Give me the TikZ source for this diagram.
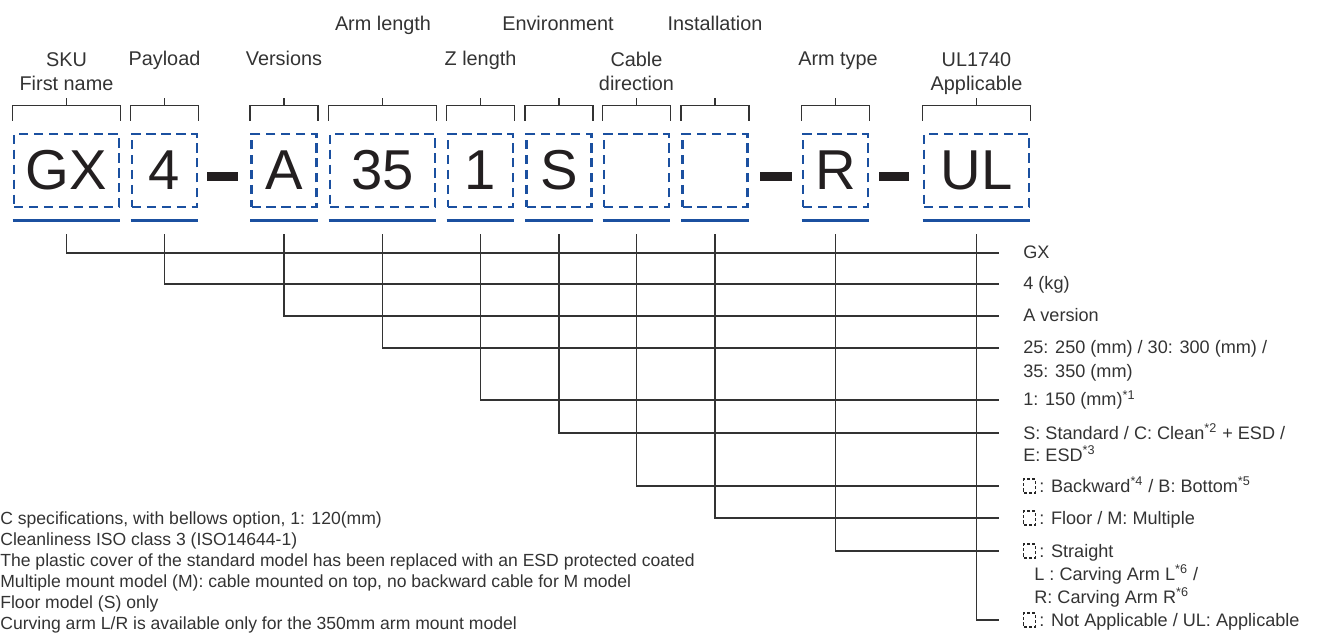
\documentclass[tikz,border=0pt]{standalone}
\usepackage{fontspec}
\setmainfont{Liberation Sans}
\usetikzlibrary{positioning}
\definecolor{codeblue}{HTML}{1B50A0}
\definecolor{inkgray}{HTML}{333333}
\definecolor{glyphblack}{HTML}{231F20}
\tikzset{
    fieldbox/.style={draw=codeblue, line width=1.6pt, dash pattern=on 5.3pt off 3.2pt,
        minimum height=1.46cm, inner sep=0pt, text=glyphblack, font=\fontsize{32}{36}\selectfont},
    narrowbox/.style={fieldbox, minimum width=1.3cm},
    widebox/.style={fieldbox, minimum width=2.1cm},
    toplab/.style={text=inkgray, font=\fontsize{11.3}{13.6}\selectfont, inner sep=0pt, align=center},
    desc/.style={text=inkgray, font=\fontsize{10.3}{12}\selectfont, inner sep=0pt, anchor=base west},
    note/.style={text=inkgray, font=\fontsize{10}{12}\selectfont, inner sep=0pt, anchor=base west},
    optmark/.style={draw=black!85, line width=0.6pt, dash pattern=on 1.8pt off 1.2pt,
        minimum width=0.24cm, minimum height=0.28cm, inner sep=0pt, anchor=west},
    bracket/.style={draw=inkgray, line width=0.7pt},
    underbar/.style={draw=codeblue, line width=1.5pt},
    link/.style={draw=inkgray, line width=0.75pt},
    sepbar/.style={fill=glyphblack}
}
\tikzset{
    frame/.pic={
		\draw[bracket] ([yshift=0.24cm]#1.north west) -- ++(0,-15) -| ([yshift=0.24cm]#1.north east);
		\draw[bracket] ([yshift=0.54cm]#1.north) -- ++(0,-8);
		\draw[underbar] ([yshift=-0.24cm]#1.south west) -- ([yshift=-0.24cm]#1.south east);
		\draw[link] ([yshift=-0.52cm]#1.south) |- (#1-end);
	}
}
\begin{document}
\begin{tikzpicture}[x=0.02cm,y=-0.02cm]
			\useasboundingbox (0,0) rectangle (1321,634);
			% code fields
			\node[widebox] (sku) at (66.5,170.5) {GX};
			\node[narrowbox] (pay) at (164.5,170.5) {4};
			\node[narrowbox] (ver) at (284,170.5) {A};
			\node[widebox] (arm) at (382.5,170.5) {35};
			\node[narrowbox] (zlen) at (480.5,170.5) {1};
			\node[narrowbox] (env) at (559,170.5) {S};
			\node[narrowbox] (cab) at (636.5,170.5) {};
			\node[narrowbox] (inst) at (715,170.5) {};
			\node[narrowbox] (armt) at (835.5,170.5) {R};
			\node[widebox] (ul) at (976.5,170.5) {UL};
			\fill[sepbar] (207,172.5) rectangle (238,181.5);
			\fill[sepbar] (760,172.5) rectangle (792,181.5);
			\fill[sepbar] (879,172.5) rectangle (909,181.5);
			% field names
			\node[toplab, anchor=north] (sku-lab) at (66.5,52) {SKU\\First name};
			\node[toplab, anchor=base] (pay-lab) at (164.5,66) {Payload};
			\node[toplab, anchor=base] (ver-lab) at (284,66) {Versions};
			\node[toplab, anchor=base] (arm-lab) at (383,31) {Arm length};
			\node[toplab, anchor=base] (zlen-lab) at (480.5,66) {Z length};
			\node[toplab, anchor=base] (env-lab) at (558,31) {Environment};
			\node[toplab, anchor=north] (cab-lab) at (636.5,52) {Cable\\direction};
			\node[toplab, anchor=base] (inst-lab) at (715,31) {Installation};
			\node[toplab, anchor=base] (armt-lab) at (838,66) {Arm type};
			\node[toplab, anchor=north] (ul-lab) at (976.5,52) {UL1740\\Applicable};
			% line ends
			\coordinate (sku-end) at (999,253);
			\coordinate (pay-end) at (999,284);
			\coordinate (ver-end) at (999,316);
			\coordinate (arm-end) at (999,348);
			\coordinate (zlen-end) at (999,400);
			\coordinate (env-end) at (999,433);
			\coordinate (cab-end) at (999,486);
			\coordinate (inst-end) at (999,518);
			\coordinate (armt-end) at (999,551);
			\coordinate (ul-end) at (999,620);
			\pic {frame=sku};
			\pic {frame=pay};
			\pic {frame=ver};
			\pic {frame=arm};
			\pic {frame=zlen};
			\pic {frame=env};
			\pic {frame=cab};
			\pic {frame=inst};
			\pic {frame=armt};
			\pic {frame=ul};
			% meanings
			\node[desc] (sku-desc) at (1023,259) {GX};
			\node[desc] (pay-desc) at (1023,290) {4 (kg)};
			\node[desc] (ver-desc) at (1023,322) {A version};
			\node[desc] (arm-desc) at (1023,354) {25: 250 (mm) / 30: 300 (mm) /};
			\node[desc] (arm-desc2) at (1023,378) {35: 350 (mm)};
			\node[desc] (zlen-desc) at (1023,406) {1: 150 (mm)\textsuperscript{*1}};
			\node[desc] (env-desc) at (1023,439) {S: Standard / C: Clean\textsuperscript{*2} + ESD /};
			\node[desc] (env-desc2) at (1023,461) {E: ESD\textsuperscript{*3}};
			\node[optmark] (cab-mark) at (1023,486) {};
			\node[desc] (cab-desc) at (1039,492) {: Backward\textsuperscript{*4} / B: Bottom\textsuperscript{*5}};
			\node[optmark] (inst-mark) at (1023,518) {};
			\node[desc] (inst-desc) at (1039,524) {: Floor / M: Multiple};
			\node[optmark] (armt-mark) at (1023,551) {};
			\node[desc] (armt-desc) at (1039,557) {: Straight};
			\node[desc] (armt-desc2) at (1034,580) {L : Carving Arm L\textsuperscript{*6} /};
			\node[desc] (armt-desc3) at (1034,603) {R: Carving Arm R\textsuperscript{*6}};
			\node[optmark] (ul-mark) at (1023,620) {};
			\node[desc] (ul-desc) at (1039,626) {: Not Applicable / UL: Applicable};
			% footnotes
			\node[note] (note1) at (0,524) {C specifications, with bellows option, 1: 120(mm)};
			\node[note] (note2) at (0,545) {Cleanliness ISO class 3 (ISO14644-1)};
			\node[note] (note3) at (0,566) {The plastic cover of the standard model has been replaced with an ESD protected coated};
			\node[note] (note4) at (0,587) {Multiple mount model (M): cable mounted on top, no backward cable for M model};
			\node[note] (note5) at (0,608) {Floor model (S) only};
			\node[note] (note6) at (0,629) {Curving arm L/R is available only for the 350mm arm mount model};
		\end{tikzpicture}
\end{document}
